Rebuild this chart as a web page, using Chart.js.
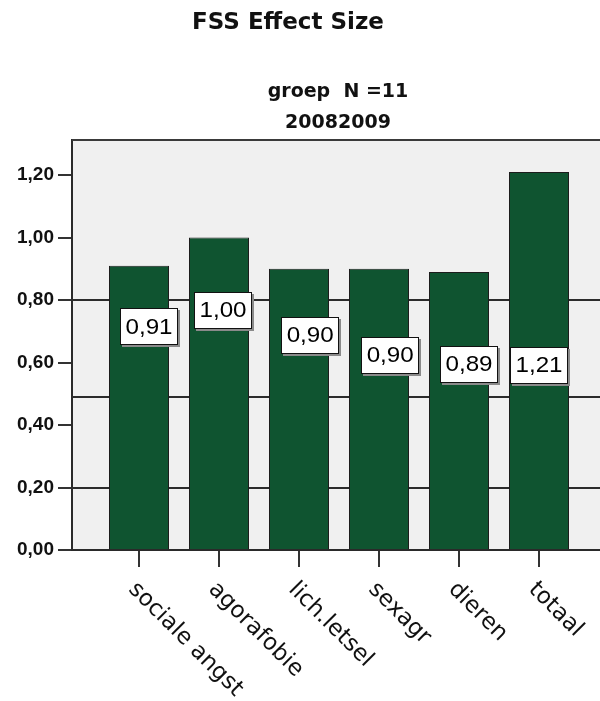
<!DOCTYPE html>
<html><head><meta charset="utf-8">
<script src="https://cdn.jsdelivr.net/npm/chart.js@4/dist/chart.umd.min.js"></script>
<style>html,body{margin:0;padding:0;background:#fff;overflow:hidden}#wrap{width:600px;height:701px}</style>
</head><body><div id="wrap"><canvas id="c" width="600" height="701"></canvas></div>
<script>
const categories = ['sociale angst', 'agorafobie', 'lich.letsel', 'sexagr', 'dieren', 'totaal'];
const effectSizes = [0.91, 1.00, 0.90, 0.90, 0.89, 1.21];
const yTickValues = [0, 0.2, 0.4, 0.6, 0.8, 1.0, 1.2];
const referenceLines = [0.2, 0.49, 0.8];
const chartTitle = 'FSS Effect Size';
const subtitleLines = ['groep  N =11', '20082009'];

const fmt = v => v.toFixed(2).replace('.', ',');

// SPSS-style label placement (in data units relative to each bar)
const labelPlacement = {
  dx: [0.125, 0.05, 0.14, 0.14, 0.125, 0],
  y: [0.714, 0.768, 0.688, 0.624, 0.595, 0.592]
};

const decor = {
  id: 'decor',
  beforeDraw(chart) {
    const {ctx, chartArea: a} = chart;
    ctx.save();
    ctx.fillStyle = '#f0f0f0';
    ctx.fillRect(a.left, a.top, a.right - a.left, a.bottom - a.top);
    ctx.restore();
  },
  beforeDatasetsDraw(chart) {
    const {ctx, chartArea: a, scales: {y}} = chart;
    ctx.save();
    ctx.strokeStyle = '#2b2b2b';
    ctx.lineWidth = 2;
    referenceLines.forEach(v => {
      const py = Math.round(y.getPixelForValue(v));
      ctx.beginPath(); ctx.moveTo(a.left, py); ctx.lineTo(a.right, py); ctx.stroke();
    });
    ctx.strokeStyle = '#3a3a3a';
    ctx.beginPath(); ctx.moveTo(a.left, a.top); ctx.lineTo(a.right, a.top); ctx.stroke();
    ctx.restore();
  },
  afterDatasetsDraw(chart) {
    const {ctx, scales: {x, y}} = chart;
    ctx.save();
    ctx.font = '22px "Liberation Sans", Arial, sans-serif';
    ctx.textAlign = 'center';
    ctx.textBaseline = 'middle';
    effectSizes.forEach((v, i) => {
      const cx = x.getPixelForValue(i + labelPlacement.dx[i]);
      const cy = y.getPixelForValue(labelPlacement.y[i]);
      const txt = fmt(v);
      const w = 58, h = 37;
      const lx = Math.round(cx - w / 2), ly = Math.round(cy - h / 2);
      ctx.fillStyle = '#8a8a8a';
      ctx.fillRect(lx + 2, ly + 2, w, h);
      ctx.fillStyle = '#ffffff';
      ctx.fillRect(lx, ly, w, h);
      ctx.strokeStyle = '#111';
      ctx.lineWidth = 1;
      ctx.strokeRect(lx + 0.5, ly + 0.5, w - 1, h - 1);
      ctx.fillStyle = '#000';
      ctx.save();
      ctx.translate(cx, cy + 1);
      ctx.scale(1.1, 1);
      ctx.fillText(txt, 0, 0);
      ctx.restore();
    });
    ctx.restore();
  },
  afterDraw(chart) {
    const {ctx, chartArea: a, scales: {x}} = chart;
    ctx.save();
    ctx.fillStyle = '#111';
    ctx.font = '23px "DejaVu Sans"';
    ctx.textAlign = 'left';
    ctx.textBaseline = 'middle';
    categories.forEach((c, i) => {
      const px = x.getPixelForValue(i);
      ctx.save();
      ctx.translate(px - 7, a.bottom + 36);
      ctx.rotate(Math.PI / 4);
      ctx.fillText(c, 0, 0);
      ctx.restore();
    });
    ctx.textAlign = 'center';
    ctx.textBaseline = 'alphabetic';
    ctx.font = 'bold 23px "DejaVu Sans"';
    ctx.fillText(chartTitle, 288, 29);
    ctx.font = 'bold 19px "DejaVu Sans"';
    const mid = (a.left + a.right) / 2 + 2;
    ctx.fillText(subtitleLines[0], mid, 97);
    ctx.fillText(subtitleLines[1], mid, 128);
    ctx.restore();
  }
};

new Chart(document.getElementById('c'), {
  type: 'bar',
  data: {
    datasets: [{
      data: effectSizes.map((v, i) => ({x: i, y: v})),
      backgroundColor: '#0f5430',
      borderColor: '#1c1c1c',
      borderWidth: 1,
      borderSkipped: 'bottom',
      barPercentage: 0.75,
      categoryPercentage: 1
    }]
  },
  options: {
    responsive: false,
    animation: false,
    devicePixelRatio: 1,
    layout: {padding: {top: 140, left: 0, right: 0, bottom: 0}},
    plugins: {legend: {display: false}, tooltip: {enabled: false}, title: {display: false}},
    scales: {
      x: {
        type: 'linear', min: -0.8375, max: 5.7625, offset: false,
        afterBuildTicks: s => { s.ticks = categories.map((_, i) => ({value: i})); },
        afterFit: s => { s.height = 151; },
        ticks: {display: false},
        grid: {offset: false, drawOnChartArea: false, drawTicks: true, tickLength: 17, color: '#333', lineWidth: 2},
        border: {display: true, color: '#2a2a2a', width: 2}
      },
      y: {
        min: 0, max: 1.312,
        afterBuildTicks: s => { s.ticks = yTickValues.map(v => ({value: v})); },
        afterFit: s => { s.width = 72; },
        ticks: {callback: v => fmt(v), font: {family: '"Liberation Sans", Arial, sans-serif', size: 19, weight: 'bold'}, color: '#111', padding: 4},
        grid: {drawOnChartArea: false, drawTicks: true, tickLength: 14, color: '#333', lineWidth: 2},
        border: {display: true, color: '#2a2a2a', width: 2}
      }
    }
  },
  plugins: [decor]
});
</script>
</body></html>
